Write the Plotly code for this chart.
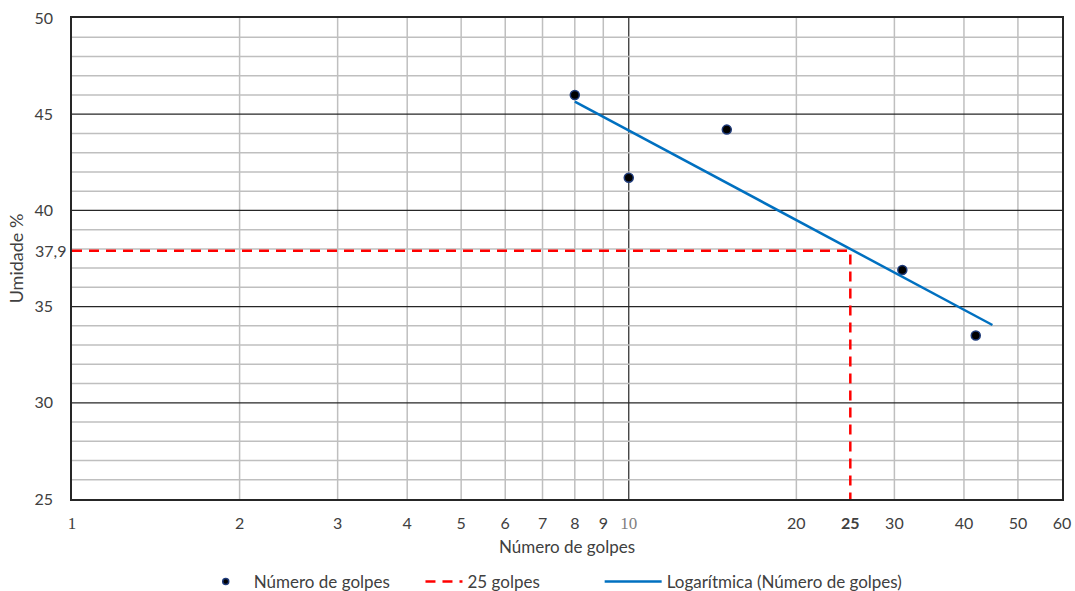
import numpy as np
import plotly.graph_objects as go

# Ensaio de limite de liquidez: golpes x umidade
golpes = [8, 10, 15, 31, 42]
umidade = [46.0, 41.7, 44.2, 36.9, 33.5]

# Linha de referência em 25 golpes
golpes_ref = 25
umidade_ref = 37.9
umidade_ref_label = "37,9"

# Faixa da linha de tendência logarítmica
trend_x = [8, 45]

x_ticks = [1, 2, 3, 4, 5, 6, 7, 8, 9, 10, 20, 25, 30, 40, 50, 60]
x_ticktext = ["<span style='font-family:Liberation Serif;font-size:17px'>1</span>", "2", "3", "4", "5", "6", "7", "8", "9",
              "<span style='font-family:Liberation Serif;font-size:17px;fill:#7F7F7F'>10</span>",
              "20", "<b>25</b>", "30", "40", "50", "60"]
y_ticks = [25, 30, 35, 40, 45, 50]
y_ticktext = ["25", "30", "35", "40", "45", "50"]

x_grid = [2, 3, 4, 5, 6, 7, 8, 9, 20, 30, 40, 50]
x_grid_major = [10]
y_grid_minor = [v for v in range(26, 50) if v % 5 != 0]
y_grid_major = [30, 35, 40, 45]

x_min, x_max = 1, 60
y_min, y_max = 25, 50

# Ajuste logarítmico y = a*ln(x) + b
a, b = np.polyfit(np.log(golpes), umidade, 1)
trend_y = [a * np.log(v) + b for v in trend_x]

font_family = "Lato, Noto Sans, sans-serif"
text_color = "#404040"
point_style = dict(color="black", line=dict(color="#1F3B7A", width=1.5))

fig = go.Figure()

fig.add_trace(go.Scatter(
    x=golpes, y=umidade, mode="markers", name="Número de golpes", showlegend=False,
    marker=dict(size=9, **point_style),
))
# Entrada de legenda com símbolo reduzido
fig.add_trace(go.Scatter(
    x=[None], y=[None], mode="markers", name="Número de golpes", legend="legend",
    marker=dict(size=6, **point_style),
))
fig.add_trace(go.Scatter(
    x=[x_min, golpes_ref, golpes_ref], y=[umidade_ref, umidade_ref, y_min],
    mode="lines", name="25 golpes", legend="legend2",
    line=dict(color="#FF0000", width=2.5, dash="10px,7px"),
))
fig.add_trace(go.Scatter(
    x=trend_x, y=trend_y, mode="lines", name="Logarítmica (Número de golpes)", legend="legend3",
    line=dict(color="#0070C0", width=2.5),
))

shapes = []
for v in x_grid:
    shapes.append(dict(type="line", xref="x", yref="y", x0=v, x1=v, y0=y_min, y1=y_max,
                       line=dict(color="#BFBFBF", width=1.5), layer="below"))
for v in x_grid_major:
    shapes.append(dict(type="line", xref="x", yref="y", x0=v, x1=v, y0=y_min, y1=y_max,
                       line=dict(color="#262626", width=1.2), layer="below"))
for v in y_grid_minor:
    shapes.append(dict(type="line", xref="x", yref="y", x0=x_min, x1=x_max, y0=v, y1=v,
                       line=dict(color="#BFBFBF", width=1.5), layer="below"))
for v in y_grid_major:
    shapes.append(dict(type="line", xref="x", yref="y", x0=x_min, x1=x_max, y0=v, y1=v,
                       line=dict(color="#262626", width=1.2), layer="below"))

legend_common = dict(orientation="h", y=-0.135, yanchor="top", xanchor="left",
                     bgcolor="rgba(0,0,0,0)",
                     font=dict(family=font_family, size=17, color=text_color))

fig.update_layout(
    width=1075, height=591,
    margin=dict(l=72, r=13, t=18, b=92, autoexpand=False),
    paper_bgcolor="white", plot_bgcolor="white",
    font=dict(family=font_family, size=16, color=text_color),
    shapes=shapes,
    showlegend=True,
    legend=dict(x=0.127, itemwidth=46, **legend_common),
    legend2=dict(x=0.352, itemwidth=37, **legend_common),
    legend3=dict(x=0.533, itemwidth=57, **legend_common),
    annotations=[dict(
        xref="paper", yref="y", x=-0.004, y=umidade_ref, xanchor="right", yanchor="middle",
        text=umidade_ref_label, showarrow=False, font=dict(size=16, color=text_color),
    )],
    xaxis=dict(
        type="log", range=[np.log10(x_min), np.log10(x_max)],
        tickmode="array", tickvals=x_ticks, ticktext=x_ticktext,
        showgrid=False, zeroline=False, showline=True, linecolor="#262626", linewidth=1.5,
        mirror=True, ticks="outside", ticklen=9, tickcolor="rgba(0,0,0,0)", automargin=False,
        tickfont=dict(size=16, color=text_color),
        title=dict(text="Número de golpes", font=dict(size=17, color=text_color), standoff=9),
    ),
    yaxis=dict(
        range=[y_min, y_max], tickmode="array", tickvals=y_ticks, ticktext=y_ticktext,
        showgrid=False, zeroline=False, showline=True, linecolor="#262626", linewidth=1.5,
        mirror=True, ticks="outside", ticklen=14, tickcolor="rgba(0,0,0,0)", automargin=False,
        tickfont=dict(size=16, color=text_color),
        title=dict(text="Umidade %", font=dict(size=18, color=text_color), standoff=6),
    ),
)

fig.write_html("out.html")
